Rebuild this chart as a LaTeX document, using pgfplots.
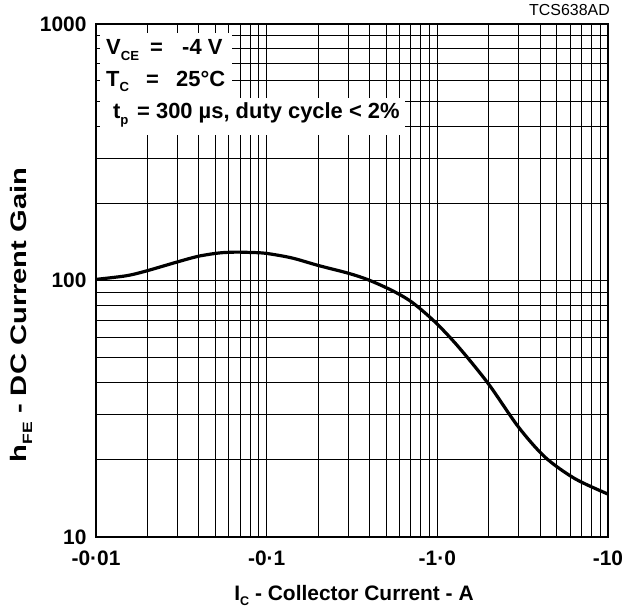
\documentclass[border=0pt]{standalone}
\usepackage{fontspec}
\setmainfont{Liberation Sans}
\usepackage{pgfplots}
\pgfplotsset{compat=1.18}
\newcommand{\sub}[1]{\raisebox{-0.45ex}{\scalebox{0.6}{#1}}}
\begin{document}
\begin{tikzpicture}[x=1bp,y=1bp]
\begin{axis}[
  at={(0,0)}, anchor=south west,
  scale only axis, width=512bp, height=513bp,
  xmode=log, ymode=log,
  xmin=0.01, xmax=10, ymin=10, ymax=1000,
  xtick={0.01,0.1,1,10}, xticklabels={-0·01,-0·1,-1·0,-10},
  ytick={10,100,1000}, yticklabels={10,100,1000},
  minor xtick={0.02,0.03,0.04,0.05,0.06,0.07,0.08,0.09,0.2,0.3,0.4,0.5,0.6,0.7,0.8,0.9,2,3,4,5,6,7,8,9},
  minor ytick={20,30,40,50,60,70,80,90,200,300,400,500,600,700,800,900},
  grid=both,
  major grid style={black, line width=0.9bp},
  minor grid style={black, line width=0.9bp},
  major tick length=0pt, minor tick length=0pt,
  axis line style={line width=2.8bp},
  tick label style={font=\fontsize{21}{25}\selectfont\bfseries},
  xticklabel style={yshift=-10bp},
  yticklabel style={xshift=-6bp},
  xlabel={I\sub{C} - Collector Current - A},
  ylabel={\scalebox{1.3}[1]{h\sub{FE} - DC Current Gain}},
  xlabel style={font=\fontsize{21}{25}\selectfont\bfseries, at={(axis description cs:0.504,-0.123)}, anchor=base},
  ylabel style={font=\fontsize{22.5}{27}\selectfont\bfseries, at={(axis description cs:-0.146,0.433)}, anchor=center},
]
\fill[white] (rel axis cs:0.0078,0.9825) rectangle (rel axis cs:0.2656,0.8558);
\fill[white] (rel axis cs:0.0078,0.8558) rectangle (rel axis cs:0.6035,0.7836);
\addplot[black, line width=3.2bp, smooth] coordinates {
(0.01,101) (0.015,104.3) (0.0195,108.7) (0.0306,118.6) (0.04,124.4) (0.0524,128)
(0.065,129) (0.075,128.8) (0.098,127.7) (0.14,122.5) (0.201,114.4) (0.3,106.8)
(0.394,100.6) (0.541,91.5) (0.708,82.4) (0.97,68.9) (1.33,55.1) (1.99,39.6)
(2.98,26.9) (4.27,20.5) (6.38,16.9) (10,14.7)
};
\begin{scope}[every node/.style={anchor=base west, inner sep=0pt, font=\fontsize{22}{26}\selectfont\bfseries}]
\node at (rel axis cs:0.0195,0.9396) {V\sub{CE}};
\node at (rel axis cs:0.1055,0.9396) {=};
\node at (rel axis cs:0.168,0.9396) {-4 V};
\node at (rel axis cs:0.0195,0.8791) {T\sub{C}};
\node at (rel axis cs:0.0977,0.8791) {=};
\node at (rel axis cs:0.1563,0.8791) {25°C};
\node at (rel axis cs:0.0332,0.8148) {t\sub{p}};
\node at (rel axis cs:0.0801,0.8148) {= 300 µs, duty cycle < 2\%};
\end{scope}
\end{axis}
\node[anchor=base east, inner sep=0pt, font=\fontsize{16}{19}\selectfont] at (514,521) {TCS638AD};
\pgfresetboundingbox
\path (-96,-76) rectangle (529,537);
\end{tikzpicture}
\end{document}
